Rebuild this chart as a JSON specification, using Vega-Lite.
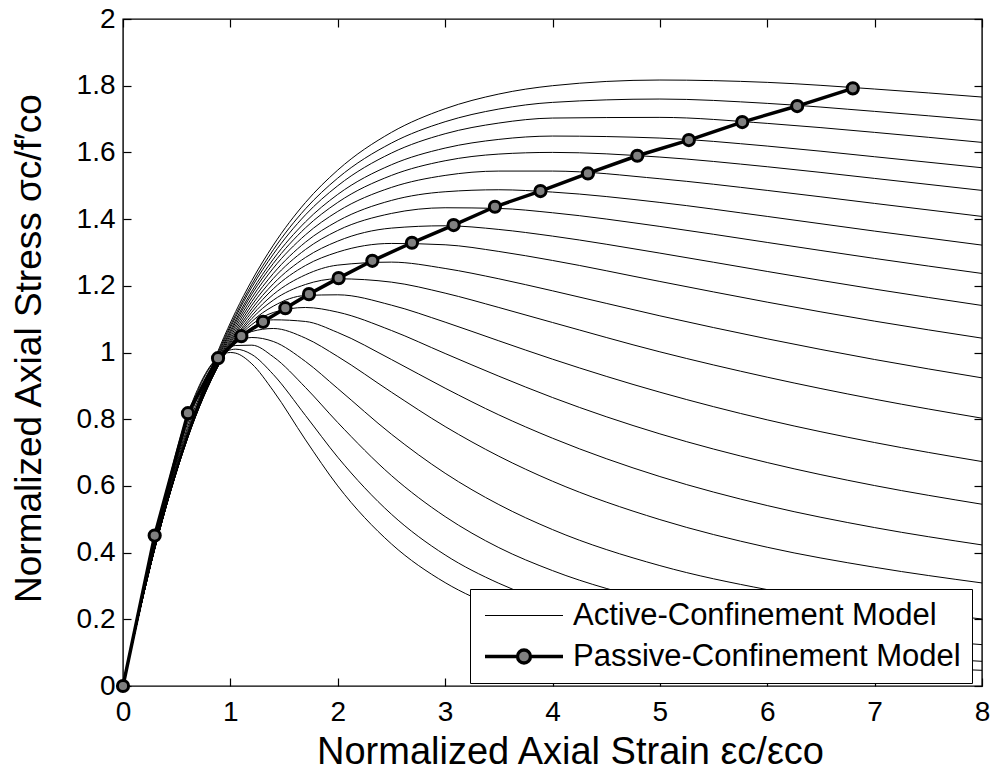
{
"$schema": "https://vega.github.io/schema/vega-lite/v6.json",
"width": 859, "height": 667,
"autosize": {"type": "none"},
"padding": {"left": 123, "top": 19, "right": 15, "bottom": 98},
"background": "white",
"config": {
 "view": {"stroke": "black", "strokeWidth": 1.4},
 "font": "Liberation Sans",
 "axis": {"grid": false, "domain": false, "offset": -8, "tickColor": "black", "tickWidth": 1.2, "tickSize": 8,
  "labelColor": "black", "labelFont": "Liberation Sans", "labelFontSize": 28, "titleFont": "Liberation Sans", "titleFontSize": 38,
  "titleFontWeight": "normal", "titleColor": "black", "labelFlush": false, "labelOverlap": false}
},
"datasets": {
"active": [
{"c":1,"x":0,"y":0},{"c":1,"x":0.3,"y":0.418},{"c":1,"x":0.6,"y":0.754},{"c":1,"x":0.9,"y":1.016},{"c":1,"x":1.05,"y":1.123},{"c":1,"x":1.2,"y":1.216},{"c":1,"x":1.4,"y":1.322},{"c":1,"x":1.7,"y":1.450},{"c":1,"x":2,"y":1.547},{"c":1,"x":2.5,"y":1.660},{"c":1,"x":3,"y":1.731},{"c":1,"x":3.5,"y":1.775},{"c":1,"x":4,"y":1.800},{"c":1,"x":5,"y":1.817},{"c":1,"x":6,"y":1.810},{"c":1,"x":7,"y":1.790},{"c":1,"x":8,"y":1.766},
{"c":2,"x":0,"y":0},{"c":2,"x":0.3,"y":0.417},{"c":2,"x":0.6,"y":0.752},{"c":2,"x":0.9,"y":1.010},{"c":2,"x":1.05,"y":1.114},{"c":2,"x":1.2,"y":1.205},{"c":2,"x":1.4,"y":1.308},{"c":2,"x":1.7,"y":1.431},{"c":2,"x":2,"y":1.523},{"c":2,"x":2.5,"y":1.628},{"c":2,"x":3,"y":1.692},{"c":2,"x":3.5,"y":1.730},{"c":2,"x":4,"y":1.750},{"c":2,"x":5,"y":1.760},{"c":2,"x":6,"y":1.747},{"c":2,"x":7,"y":1.723},{"c":2,"x":8,"y":1.696},
{"c":3,"x":0,"y":0},{"c":3,"x":0.3,"y":0.417},{"c":3,"x":0.6,"y":0.750},{"c":3,"x":0.9,"y":1.004},{"c":3,"x":1.05,"y":1.107},{"c":3,"x":1.2,"y":1.196},{"c":3,"x":1.4,"y":1.295},{"c":3,"x":1.7,"y":1.413},{"c":3,"x":2,"y":1.500},{"c":3,"x":2.5,"y":1.598},{"c":3,"x":3,"y":1.656},{"c":3,"x":3.5,"y":1.688},{"c":3,"x":4,"y":1.703},{"c":3,"x":5,"y":1.705},{"c":3,"x":6,"y":1.687},{"c":3,"x":7,"y":1.660},{"c":3,"x":8,"y":1.630},
{"c":4,"x":0,"y":0},{"c":4,"x":0.3,"y":0.417},{"c":4,"x":0.6,"y":0.748},{"c":4,"x":0.9,"y":0.998},{"c":4,"x":1.05,"y":1.098},{"c":4,"x":1.2,"y":1.184},{"c":4,"x":1.4,"y":1.280},{"c":4,"x":1.7,"y":1.392},{"c":4,"x":2,"y":1.474},{"c":4,"x":2.5,"y":1.563},{"c":4,"x":3,"y":1.613},{"c":4,"x":3.5,"y":1.639},{"c":4,"x":4,"y":1.649},{"c":4,"x":5,"y":1.643},{"c":4,"x":6,"y":1.619},{"c":4,"x":7,"y":1.587},{"c":4,"x":8,"y":1.554},
{"c":5,"x":0,"y":0},{"c":5,"x":0.3,"y":0.417},{"c":5,"x":0.6,"y":0.746},{"c":5,"x":0.9,"y":0.993},{"c":5,"x":1.05,"y":1.091},{"c":5,"x":1.2,"y":1.175},{"c":5,"x":1.4,"y":1.267},{"c":5,"x":1.7,"y":1.374},{"c":5,"x":2,"y":1.450},{"c":5,"x":2.5,"y":1.531},{"c":5,"x":3,"y":1.575},{"c":5,"x":3.5,"y":1.595},{"c":5,"x":4,"y":1.600},{"c":5,"x":5,"y":1.586},{"c":5,"x":6,"y":1.557},{"c":5,"x":7,"y":1.522},{"c":5,"x":8,"y":1.486},
{"c":6,"x":0,"y":0},{"c":6,"x":0.3,"y":0.417},{"c":6,"x":0.6,"y":0.744},{"c":6,"x":0.9,"y":0.987},{"c":6,"x":1.05,"y":1.083},{"c":6,"x":1.2,"y":1.164},{"c":6,"x":1.4,"y":1.253},{"c":6,"x":1.7,"y":1.353},{"c":6,"x":2,"y":1.423},{"c":6,"x":2.5,"y":1.495},{"c":6,"x":3,"y":1.531},{"c":6,"x":3.5,"y":1.544},{"c":6,"x":4,"y":1.544},{"c":6,"x":5,"y":1.521},{"c":6,"x":6,"y":1.486},{"c":6,"x":7,"y":1.447},{"c":6,"x":8,"y":1.408},
{"c":7,"x":0,"y":0},{"c":7,"x":0.3,"y":0.417},{"c":7,"x":0.6,"y":0.743},{"c":7,"x":0.9,"y":0.982},{"c":7,"x":1.05,"y":1.075},{"c":7,"x":1.2,"y":1.153},{"c":7,"x":1.4,"y":1.237},{"c":7,"x":1.7,"y":1.331},{"c":7,"x":2,"y":1.394},{"c":7,"x":2.5,"y":1.456},{"c":7,"x":3,"y":1.482},{"c":7,"x":3.5,"y":1.488},{"c":7,"x":4,"y":1.481},{"c":7,"x":5,"y":1.450},{"c":7,"x":6,"y":1.408},{"c":7,"x":7,"y":1.364},{"c":7,"x":8,"y":1.322},
{"c":8,"x":0,"y":0},{"c":8,"x":0.3,"y":0.417},{"c":8,"x":0.6,"y":0.742},{"c":8,"x":0.9,"y":0.977},{"c":8,"x":1.05,"y":1.067},{"c":8,"x":1.2,"y":1.142},{"c":8,"x":1.4,"y":1.222},{"c":8,"x":1.7,"y":1.309},{"c":8,"x":2,"y":1.366},{"c":8,"x":2.5,"y":1.417},{"c":8,"x":3,"y":1.434},{"c":8,"x":3.5,"y":1.432},{"c":8,"x":4,"y":1.419},{"c":8,"x":5,"y":1.378},{"c":8,"x":6,"y":1.330},{"c":8,"x":7,"y":1.282},{"c":8,"x":8,"y":1.237},
{"c":9,"x":0,"y":0},{"c":9,"x":0.3,"y":0.418},{"c":9,"x":0.6,"y":0.741},{"c":9,"x":0.9,"y":0.973},{"c":9,"x":1.05,"y":1.060},{"c":9,"x":1.2,"y":1.131},{"c":9,"x":1.4,"y":1.206},{"c":9,"x":1.7,"y":1.285},{"c":9,"x":2,"y":1.334},{"c":9,"x":2.5,"y":1.373},{"c":9,"x":3,"y":1.380},{"c":9,"x":3.5,"y":1.369},{"c":9,"x":4,"y":1.349},{"c":9,"x":5,"y":1.298},{"c":9,"x":6,"y":1.243},{"c":9,"x":7,"y":1.190},{"c":9,"x":8,"y":1.141},
{"c":10,"x":0,"y":0},{"c":10,"x":0.3,"y":0.419},{"c":10,"x":0.6,"y":0.742},{"c":10,"x":0.9,"y":0.969},{"c":10,"x":1.05,"y":1.054},{"c":10,"x":1.2,"y":1.121},{"c":10,"x":1.4,"y":1.191},{"c":10,"x":1.7,"y":1.261},{"c":10,"x":2,"y":1.301},{"c":10,"x":2.5,"y":1.327},{"c":10,"x":3,"y":1.323},{"c":10,"x":3.5,"y":1.303},{"c":10,"x":4,"y":1.276},{"c":10,"x":5,"y":1.213},{"c":10,"x":6,"y":1.151},{"c":10,"x":7,"y":1.094},{"c":10,"x":8,"y":1.043},
{"c":11,"x":0,"y":0},{"c":11,"x":0.3,"y":0.420},{"c":11,"x":0.6,"y":0.744},{"c":11,"x":0.9,"y":0.967},{"c":11,"x":1.05,"y":1.047},{"c":11,"x":1.2,"y":1.111},{"c":11,"x":1.4,"y":1.174},{"c":11,"x":1.7,"y":1.233},{"c":11,"x":2,"y":1.262},{"c":11,"x":2.5,"y":1.271},{"c":11,"x":3,"y":1.252},{"c":11,"x":3.5,"y":1.221},{"c":11,"x":4,"y":1.185},{"c":11,"x":5,"y":1.110},{"c":11,"x":6,"y":1.041},{"c":11,"x":7,"y":0.979},{"c":11,"x":8,"y":0.924},
{"c":12,"x":0,"y":0},{"c":12,"x":0.3,"y":0.422},{"c":12,"x":0.6,"y":0.747},{"c":12,"x":0.9,"y":0.967},{"c":12,"x":1.05,"y":1.043},{"c":12,"x":1.2,"y":1.102},{"c":12,"x":1.4,"y":1.157},{"c":12,"x":1.7,"y":1.204},{"c":12,"x":2,"y":1.221},{"c":12,"x":2.5,"y":1.211},{"c":12,"x":3,"y":1.178},{"c":12,"x":3.5,"y":1.135},{"c":12,"x":4,"y":1.090},{"c":12,"x":5,"y":1.002},{"c":12,"x":6,"y":0.926},{"c":12,"x":7,"y":0.860},{"c":12,"x":8,"y":0.803},
{"c":13,"x":0,"y":0},{"c":13,"x":0.3,"y":0.425},{"c":13,"x":0.6,"y":0.752},{"c":13,"x":0.9,"y":0.968},{"c":13,"x":1.05,"y":1.040},{"c":13,"x":1.2,"y":1.093},{"c":13,"x":1.4,"y":1.139},{"c":13,"x":1.7,"y":1.171},{"c":13,"x":2,"y":1.173},{"c":13,"x":2.5,"y":1.142},{"c":13,"x":3,"y":1.091},{"c":13,"x":3.5,"y":1.035},{"c":13,"x":4,"y":0.980},{"c":13,"x":5,"y":0.881},{"c":13,"x":6,"y":0.798},{"c":13,"x":7,"y":0.730},{"c":13,"x":8,"y":0.673},
{"c":14,"x":0,"y":0},{"c":14,"x":0.3,"y":0.428},{"c":14,"x":0.6,"y":0.759},{"c":14,"x":0.9,"y":0.971},{"c":14,"x":1.05,"y":1.038},{"c":14,"x":1.2,"y":1.084},{"c":14,"x":1.4,"y":1.120},{"c":14,"x":1.7,"y":1.135},{"c":14,"x":2,"y":1.121},{"c":14,"x":2.5,"y":1.066},{"c":14,"x":3,"y":0.997},{"c":14,"x":3.5,"y":0.929},{"c":14,"x":4,"y":0.865},{"c":14,"x":5,"y":0.756},{"c":14,"x":6,"y":0.670},{"c":14,"x":7,"y":0.601},{"c":14,"x":8,"y":0.545},
{"c":15,"x":0,"y":0},{"c":15,"x":0.3,"y":0.431},{"c":15,"x":0.6,"y":0.766},{"c":15,"x":0.9,"y":0.975},{"c":15,"x":1.05,"y":1.036},{"c":15,"x":1.2,"y":1.075},{"c":15,"x":1.4,"y":1.098},{"c":15,"x":1.7,"y":1.093},{"c":15,"x":2,"y":1.060},{"c":15,"x":2.5,"y":0.979},{"c":15,"x":3,"y":0.893},{"c":15,"x":3.5,"y":0.813},{"c":15,"x":4,"y":0.743},{"c":15,"x":5,"y":0.628},{"c":15,"x":6,"y":0.541},{"c":15,"x":7,"y":0.475},{"c":15,"x":8,"y":0.423},
{"c":16,"x":0,"y":0},{"c":16,"x":0.3,"y":0.434},{"c":16,"x":0.6,"y":0.775},{"c":16,"x":0.9,"y":0.980},{"c":16,"x":1.05,"y":1.034},{"c":16,"x":1.2,"y":1.063},{"c":16,"x":1.4,"y":1.072},{"c":16,"x":1.7,"y":1.043},{"c":16,"x":2,"y":0.988},{"c":16,"x":2.5,"y":0.881},{"c":16,"x":3,"y":0.778},{"c":16,"x":3.5,"y":0.689},{"c":16,"x":4,"y":0.614},{"c":16,"x":5,"y":0.499},{"c":16,"x":6,"y":0.416},{"c":16,"x":7,"y":0.356},{"c":16,"x":8,"y":0.309},
{"c":17,"x":0,"y":0},{"c":17,"x":0.3,"y":0.437},{"c":17,"x":0.6,"y":0.786},{"c":17,"x":0.9,"y":0.985},{"c":17,"x":1.05,"y":1.029},{"c":17,"x":1.2,"y":1.045},{"c":17,"x":1.4,"y":1.033},{"c":17,"x":1.7,"y":0.973},{"c":17,"x":2,"y":0.892},{"c":17,"x":2.5,"y":0.755},{"c":17,"x":3,"y":0.638},{"c":17,"x":3.5,"y":0.544},{"c":17,"x":4,"y":0.469},{"c":17,"x":5,"y":0.361},{"c":17,"x":6,"y":0.289},{"c":17,"x":7,"y":0.238},{"c":17,"x":8,"y":0.201},
{"c":18,"x":0,"y":0},{"c":18,"x":0.3,"y":0.440},{"c":18,"x":0.6,"y":0.796},{"c":18,"x":0.9,"y":0.988},{"c":18,"x":1.05,"y":1.021},{"c":18,"x":1.2,"y":1.022},{"c":18,"x":1.4,"y":0.987},{"c":18,"x":1.7,"y":0.895},{"c":18,"x":2,"y":0.790},{"c":18,"x":2.5,"y":0.631},{"c":18,"x":3,"y":0.508},{"c":18,"x":3.5,"y":0.415},{"c":18,"x":4,"y":0.346},{"c":18,"x":5,"y":0.251},{"c":18,"x":6,"y":0.192},{"c":18,"x":7,"y":0.152},{"c":18,"x":8,"y":0.124},
{"c":19,"x":0,"y":0},{"c":19,"x":0.3,"y":0.443},{"c":19,"x":0.6,"y":0.805},{"c":19,"x":0.9,"y":0.990},{"c":19,"x":1.05,"y":1.010},{"c":19,"x":1.2,"y":0.994},{"c":19,"x":1.4,"y":0.934},{"c":19,"x":1.7,"y":0.811},{"c":19,"x":2,"y":0.686},{"c":19,"x":2.5,"y":0.515},{"c":19,"x":3,"y":0.393},{"c":19,"x":3.5,"y":0.308},{"c":19,"x":4,"y":0.247},{"c":19,"x":5,"y":0.169},{"c":19,"x":6,"y":0.123},{"c":19,"x":7,"y":0.094},{"c":19,"x":8,"y":0.074},
{"c":20,"x":0,"y":0},{"c":20,"x":0.3,"y":0.444},{"c":20,"x":0.6,"y":0.812},{"c":20,"x":0.9,"y":0.989},{"c":20,"x":1.0,"y":1.000},{"c":20,"x":1.05,"y":0.998},{"c":20,"x":1.2,"y":0.966},{"c":20,"x":1.4,"y":0.885},{"c":20,"x":1.7,"y":0.738},{"c":20,"x":2,"y":0.600},{"c":20,"x":2.5,"y":0.426},{"c":20,"x":3,"y":0.310},{"c":20,"x":3.5,"y":0.234},{"c":20,"x":4,"y":0.182},{"c":20,"x":5,"y":0.118},{"c":20,"x":6,"y":0.083},{"c":20,"x":7,"y":0.061},{"c":20,"x":8,"y":0.047}
],
"passive": [
{"x":0,"y":0},{"x":0.295,"y":0.451},{"x":0.605,"y":0.818},{"x":0.885,"y":0.983},{"x":1.102,"y":1.049},{"x":1.304,"y":1.092},{"x":1.512,"y":1.133},{"x":1.732,"y":1.175},{"x":2.008,"y":1.223},{"x":2.322,"y":1.275},{"x":2.691,"y":1.329},{"x":3.079,"y":1.382},{"x":3.464,"y":1.437},{"x":3.888,"y":1.484},{"x":4.330,"y":1.537},{"x":4.790,"y":1.590},{"x":5.270,"y":1.637},{"x":5.767,"y":1.691},{"x":6.279,"y":1.739},{"x":6.797,"y":1.792}
]
},
"layer": [
{
 "data": {"name": "active"},
 "mark": {"type": "line", "interpolate": "monotone", "strokeWidth": 1},
 "encoding": {
  "x": {"field": "x", "type": "quantitative", "scale": {"domain": [0, 8], "nice": false, "zero": false},
   "axis": {"orient": "bottom", "values": [0,1,2,3,4,5,6,7,8], "labelPadding": 12, "title": "Normalized Axial Strain εc/εco",
    "titleBaseline": "alphabetic", "titleX": 447, "titleY": 85, "titleAlign": "center"}},
  "y": {"field": "y", "type": "quantitative", "scale": {"domain": [0, 2], "nice": false, "zero": false},
   "axis": {"orient": "left", "values": [0,0.2,0.4,0.6,0.8,1,1.2,1.4,1.6,1.8,2], "format": "~g", "labelPadding": 8,
    "title": "Normalized Axial Stress σc/f′co", "titleFontSize": 37, "titleAngle": 270, "titleBaseline": "alphabetic", "titleX": -91, "titleY": 329, "titleAlign": "center"}},
  "detail": {"field": "c", "type": "nominal"},
  "color": {"datum": "Active-Confinement Model", "type": "nominal",
   "scale": {"domain": ["Active-Confinement Model", "Passive-Confinement Model"], "range": ["black", "black"]},
   "legend": {"orient": "none", "legendX": 347, "legendY": 570, "title": null, "direction": "vertical",
    "fillColor": "white", "strokeColor": "black", "padding": 11, "zindex": 1,
    "symbolSize": 1332, "symbolStrokeWidth": 1.5, "symbolOffset": 27.5, "labelOffset": 33.5, "rowPadding": 9,
    "labelFontSize": 31, "labelFont": "Liberation Sans", "labelColor": "black", "labelLimit": 1000,
    "encode": {"symbols": {"update": {
      "shape": {"signal": "datum.value === 'Passive-Confinement Model' ? 'M-2.137,0L-0.356,0M0.356,0L2.137,0M-0.356,0A0.356,0.356,0,1,1,0.356,0A0.356,0.356,0,1,1,-0.356,0Z' : 'M-2.137,0L2.137,0'"},
      "strokeWidth": {"signal": "datum.value === 'Passive-Confinement Model' ? 3.3 : 1"},
      "fill": {"signal": "datum.value === 'Passive-Confinement Model' ? '#808080' : 'transparent'"},
      "stroke": {"value": "black"},
      "opacity": {"value": 1}
    }}}
   }}
 }
},
{
 "data": {"name": "passive"},
 "mark": {"type": "line", "strokeWidth": 3.5},
 "encoding": {
  "x": {"field": "x", "type": "quantitative", "axis": {"orient": "top", "values": [0,1,2,3,4,5,6,7,8], "labels": false, "title": null}},
  "y": {"field": "y", "type": "quantitative", "axis": {"orient": "right", "values": [0,0.2,0.4,0.6,0.8,1,1.2,1.4,1.6,1.8,2], "labels": false, "title": null}},
  "color": {"datum": "Passive-Confinement Model", "type": "nominal"}
 }
},
{
 "data": {"name": "passive"},
 "mark": {"type": "point", "shape": "circle", "filled": true, "fill": "#808080", "stroke": "black", "strokeWidth": 3, "size": 125, "opacity": 1},
 "encoding": {
  "x": {"field": "x", "type": "quantitative", "axis": null},
  "y": {"field": "y", "type": "quantitative", "axis": null}
 }
}
],
"resolve": {"axis": {"x": "independent", "y": "independent"}}
}
